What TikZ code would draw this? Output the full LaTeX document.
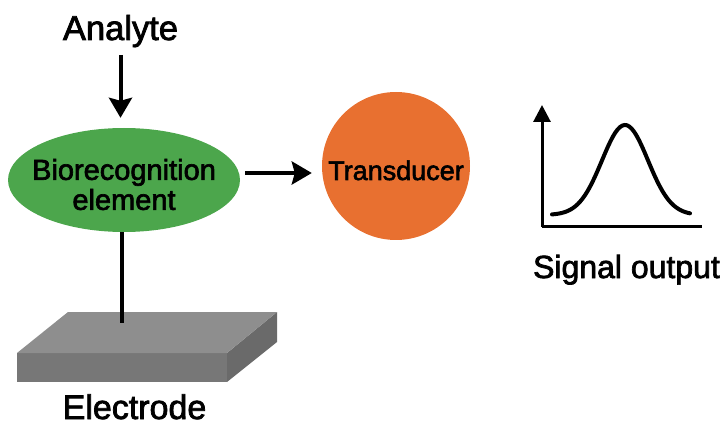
\documentclass[tikz,border=0pt]{standalone}
\usepackage{fontspec}
\setmainfont{Liberation Sans}
\newfontfamily\heavy[FakeBold=2.2]{Liberation Sans}
\usetikzlibrary{arrows.meta,shapes.geometric}
\definecolor{biogreen}{HTML}{4CA64C}
\definecolor{transorange}{HTML}{E87030}
\definecolor{etop}{HTML}{8E8E8E}
\definecolor{efront}{HTML}{777777}
\definecolor{eside}{HTML}{6A6A6A}
\tikzset{
  lbl/.style={anchor=base, inner sep=0pt},
  conn/.style={line width=4pt, draw=black},
  bigarrow/.style={conn, -{Stealth[length=20pt,width=23pt,inset=3pt]}},
}
\begin{document}
\begin{tikzpicture}[x=1pt,y=-1pt]
\useasboundingbox (0,0) rectangle (721,425);
% electrode slab
\coordinate (e1) at (17,353);
\coordinate (e2) at (68,312);
\coordinate (e3) at (277,312);
\coordinate (e4) at (227,353);
\coordinate (e5) at (227,382);
\coordinate (e6) at (17,382);
\coordinate (e7) at (277,342);
\fill[efront] (e1) -- (e4) -- (e5) -- (e6) -- cycle;
\fill[eside] (e4) -- (e3) -- (e7) -- (e5) -- cycle;
\fill[etop] (e1) -- (e2) -- (e3) -- (e4) -- cycle;
\coordinate (etopc) at (122,323);
% nodes
\node[lbl, font=\heavy\fontsize{34.5}{40}\selectfont] (analyte) at (120.5,40) {Analyte};
\node[ellipse, fill=biogreen, minimum width=232pt, minimum height=104pt, inner sep=0pt,
      align=center, font=\heavy\fontsize{29}{30}\selectfont] (bio) at (124,180)
      {\rule{0pt}{30pt}\makebox[0pt]{Biorecognition}\\\makebox[0pt]{element}};
\node[circle, fill=transorange, minimum size=148pt, inner sep=0pt, text height=28pt, text depth=0pt,
      font=\heavy\fontsize{27}{30}\selectfont] (trans) at (396,166) {\makebox[0pt]{Transducer}};
\node[lbl, font=\heavy\fontsize{34}{40}\selectfont] (electrode) at (134.5,419) {Electrode};
\node[lbl, font=\heavy\fontsize{32}{38}\selectfont] (signal) at (626.5,278) {Signal output};
% connectors
\draw[bigarrow, shorten >=10pt] ([yshift=-15pt]analyte.base) -- (analyte.base |- bio.north);
\draw[conn] (bio.south -| etopc) -- (etopc);
\coordinate (a0) at (245,173);
\draw[bigarrow, shorten >=10pt] (a0) -- (trans.west |- a0);
% graph
\coordinate (origin) at (542,227);
\coordinate (ytip) at (542,105);
\coordinate (xend) at (702,227);
\draw[line width=3pt, -{Triangle[length=17pt,width=17pt]}] (origin) -- (ytip);
\draw[line width=3pt] (origin) -- (xend);
\draw[line width=4pt, line cap=round, smooth] plot[domain=-73:65, samples=60] ({625+\x},{215-90*exp(-(\x*\x)/(2*23*23))});
\end{tikzpicture}
\end{document}
